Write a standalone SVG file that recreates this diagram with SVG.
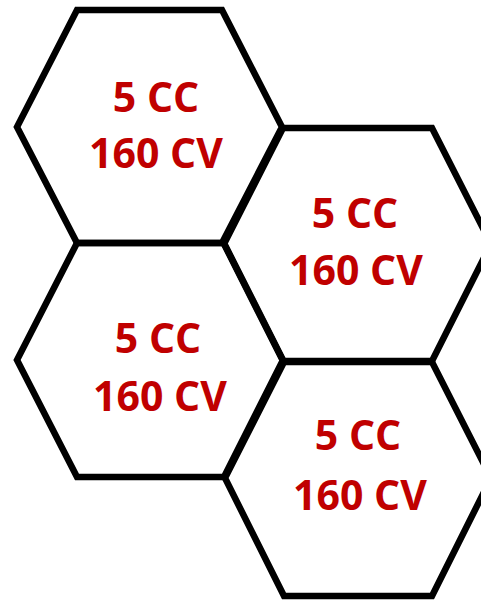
<svg xmlns="http://www.w3.org/2000/svg" width="481" height="600" viewBox="0 0 481 600">
<style>
.hex{fill:none;stroke:#000;stroke-width:6.5;stroke-linejoin:miter}
.t{font-family:"Open Sans","Liberation Sans",sans-serif;font-weight:bold;font-size:41px;fill:#C00000;text-anchor:middle}
</style>
<rect width="481" height="600" fill="#fff"/>
<g id="hex1">
<polygon class="hex" points="77,10 222,10 282,127 222,243 77,243 17,127"/>
<text class="t" x="156" y="112">5 CC</text>
<text class="t" x="156" y="168">160 CV</text>
</g>
<g id="hex2">
<polygon class="hex" points="283,128 432,128 491,244 432,361 283,361 224,244"/>
<text class="t" x="355" y="228">5 CC</text>
<text class="t" x="356" y="285">160 CV</text>
</g>
<g id="hex3">
<polygon class="hex" points="77,243 224,243 283,360 224,477 77,477 17,360"/>
<text class="t" x="158" y="353">5 CC</text>
<text class="t" x="160" y="411">160 CV</text>
</g>
<g id="hex4">
<polygon class="hex" points="284,362 432,362 491,478 432,596 284,596 225,478"/>
<text class="t" x="358" y="450">5 CC</text>
<text class="t" x="360" y="510">160 CV</text>
</g>
<g id="connectors"></g>
</svg>
